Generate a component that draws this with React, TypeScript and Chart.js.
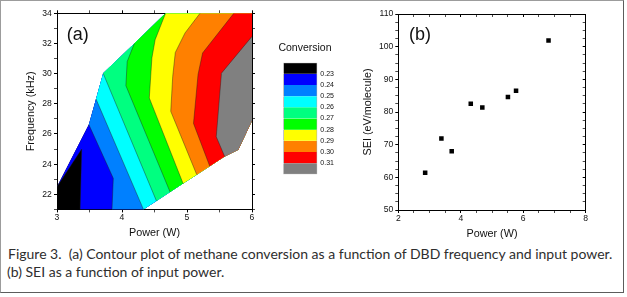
import React, { useEffect, useRef } from 'react';
import { Chart, registerables } from 'chart.js';

Chart.register(...registerables);

const FONT = '"Liberation Sans", Arial, Helvetica, sans-serif';

// ---------------- Panel (a): contour of methane conversion ----------------
const CONVERSION_LEVELS = [0.23, 0.24, 0.25, 0.26, 0.27, 0.28, 0.29, 0.3, 0.31];
const BAND_COLORS = ['#000000', '#0000ff', '#0080ff', '#00ffff', '#00ff80', '#00ff00', '#ffff00', '#ff8000', '#ff0000', '#808080'];
const COLORBAR_RANGE = [0.22, 0.32];

const POWER_RANGE_A = [3, 6];
const FREQ_RANGE_A = [21, 34];

// outline of the measured region [power W, frequency kHz], counter-clockwise from bottom-left
const DOMAIN_OUTLINE: number[][] = [
  [3, 21], [3.355, 21], [3.846, 21], [4.33, 21],
  [4.53, 21.56], [4.74, 22.15], [4.94, 22.71], [5.15, 23.3], [5.35, 23.86], [5.58, 24.5], [5.79, 24.95], [6, 26.87],
  [6, 32.47], [6, 34],
  [5.72, 34], [5.2, 34], [4.67, 34],
  [4.19, 32.0], [3.71, 30.02], [3.6, 28.32], [3.49, 26.62], [3, 22.5],
];

// iso-conversion lines, each from the upper/left edge to the lower/right edge
const CONTOUR_023 = [[3, 22.5], [3.38, 25.0], [3.355, 21]];
const CONTOUR_024 = [[3.49, 26.62], [3.866, 23.06], [3.846, 21]];
const CONTOUR_025 = [[3.6, 28.32], [4.33, 21]];
const CONTOUR_026 = [[3.71, 30.02], [4.53, 21.56]];
const CONTOUR_027 = [[4.19, 32.0], [4.08, 30.8], [4.06, 29.2], [4.74, 22.15]];
const CONTOUR_028 = [[4.67, 34], [4.51, 32.25], [4.46, 31.04], [4.42, 28.39], [4.94, 22.71]];
const CONTOUR_029 = [[5.2, 34], [4.97, 32.7], [4.82, 31.4], [4.78, 29.8], [4.75, 27.5], [5.15, 23.3]];
const CONTOUR_030 = [[5.72, 34], [5.24, 31.37], [5.17, 29.95], [5.1, 26.7], [5.35, 23.86]];
const CONTOUR_031 = [[6, 32.47], [5.53, 30.03], [5.45, 25.82], [5.58, 24.5]];
const CONTOURS = [CONTOUR_023, CONTOUR_024, CONTOUR_025, CONTOUR_026, CONTOUR_027, CONTOUR_028, CONTOUR_029, CONTOUR_030, CONTOUR_031];

// ---------------- Panel (b): SEI vs power ----------------
const SEI_POWER = [2.86, 3.38, 3.71, 4.32, 4.69, 5.51, 5.77, 6.81];
const SEI_VALUE = [61.4, 71.9, 68.0, 82.5, 81.4, 84.6, 86.5, 101.9];
const POWER_RANGE_B = [2, 8];
const SEI_RANGE_B = [50, 110];

const CAPTION_1 = 'Figure 3.  (a) Contour plot of methane conversion as a function of DBD frequency and input power.';
const CAPTION_2 = '(b) SEI as a function of input power.';

// region with conversion above a contour level: contour + outline from its end back round to its start
function regionAbove(contour: number[][]) {
  const same = (p: number[], q: number[]) => p[0] === q[0] && p[1] === q[1];
  const n = DOMAIN_OUTLINE.length;
  const s = DOMAIN_OUTLINE.findIndex((q) => same(q, contour[0]));
  const e = DOMAIN_OUTLINE.findIndex((q) => same(q, contour[contour.length - 1]));
  const pts = contour.slice();
  for (let i = (e + 1) % n; i !== s; i = (i + 1) % n) pts.push(DOMAIN_OUTLINE[i]);
  return pts;
}

const toXY = (pts: number[][]) => pts.map(([x, y]) => ({ x, y }));

function linAxis(o: {
  position: string; min: number; max: number; step: number; major: number;
  tickLen: number; labels: boolean; size: number; title?: string; titlePad?: any; labelPad?: number; z?: number;
}) {
  const isMajor = (v: number) => Math.abs(v / o.major - Math.round(v / o.major)) < 1e-6;
  const horizontal = o.position === 'top' || o.position === 'bottom';
  return {
    type: 'linear',
    position: o.position,
    min: o.min,
    max: o.max,
    z: o.z ?? 0,
    ticks: {
      display: o.labels,
      stepSize: o.step,
      autoSkip: false,
      maxRotation: 0,
      padding: o.labelPad ?? 1,
      color: '#111',
      font: { family: FONT, size: 8.6 },
      callback: (v: number) => (isMajor(v) ? String(Math.round(v)) : ''),
    },
    grid: {
      drawOnChartArea: false,
      drawTicks: true,
      tickLength: o.tickLen,
      tickColor: '#000',
      tickWidth: (c: any) => (c.tick && isMajor(c.tick.value) ? 1 : 0.7),
    },
    border: { display: true, color: '#000', width: 1 },
    title: o.title
      ? { display: true, text: o.title, color: '#111', font: { family: FONT, size: 10.8 }, padding: o.titlePad }
      : { display: false },
    afterFit: (s: any) => {
      if (horizontal) s.height = o.size;
      else s.width = o.size;
    },
  };
}

function makeContour(canvas: HTMLCanvasElement) {
  const regions = [DOMAIN_OUTLINE, ...CONTOURS.map(regionAbove)];
  const datasets: any[] = [
    ...regions.map((poly, i) => ({
      data: toXY(poly),
      fill: 'shape',
      backgroundColor: BAND_COLORS[i],
      borderColor: BAND_COLORS[i],
      borderWidth: 0,
      pointRadius: 0,
      tension: 0,
      order: 100 - i,
    })),
    ...CONTOURS.map((c) => ({
      data: toXY(c),
      fill: false,
      borderColor: 'rgba(30,30,30,0.7)',
      borderWidth: 0.6,
      pointRadius: 0,
      tension: 0,
      order: 0,
    })),
  ];
  return new Chart(canvas, {
    type: 'line',
    data: { datasets },
    options: {
      animation: false,
      responsive: false,
      events: [],
      layout: { padding: { top: 10.3, right: 15, left: 0, bottom: 0 } },
      plugins: { legend: { display: false }, tooltip: { enabled: false } },
      scales: {
        x: linAxis({ position: 'bottom', min: POWER_RANGE_A[0], max: POWER_RANGE_A[1], step: 0.5, major: 1, tickLen: 3, labels: true, size: 35.6, title: 'Power (W)', titlePad: { top: 0, bottom: 5.7 }, labelPad: 0.5, z: 1 }),
        x2: linAxis({ position: 'top', min: POWER_RANGE_A[0], max: POWER_RANGE_A[1], step: 0.5, major: 1, tickLen: 3, labels: false, size: 3, z: 1 }),
        y: linAxis({ position: 'left', min: FREQ_RANGE_A[0], max: FREQ_RANGE_A[1], step: 1, major: 2, tickLen: 3, labels: true, size: 57, title: 'Frequency (kHz)', titlePad: { top: 24.4, bottom: 0 }, labelPad: 2.3, z: 1 }),
        y2: linAxis({ position: 'right', min: FREQ_RANGE_A[0], max: FREQ_RANGE_A[1], step: 1, major: 2, tickLen: 3, labels: false, size: 3, z: 1 }),
      } as any,
    },
  } as any);
}

function makeColorbar(canvas: HTMLCanvasElement) {
  const edges = [COLORBAR_RANGE[0], ...CONVERSION_LEVELS, COLORBAR_RANGE[1]];
  const last = BAND_COLORS.length - 1;
  return new Chart(canvas, {
    type: 'bar',
    data: {
      labels: [''],
      datasets: BAND_COLORS.map((col, i) => ({
        data: [[edges[i], edges[i + 1]]],
        backgroundColor: col,
        borderColor: '#a8a8a8',
        borderWidth: { left: 1, right: 1, top: i === 0 ? 1 : 0, bottom: i === last ? 1 : 0 },
        borderSkipped: false,
        barPercentage: 1,
        categoryPercentage: 1,
      })),
    },
    options: {
      animation: false,
      responsive: false,
      events: [],
      layout: { padding: { left: 13.3, top: 7.7, bottom: 10.7, right: 0 } },
      plugins: { legend: { display: false }, tooltip: { enabled: false } },
      scales: {
        x: { type: 'category', display: false, stacked: true },
        y: {
          type: 'linear',
          position: 'right',
          min: COLORBAR_RANGE[0],
          max: COLORBAR_RANGE[1],
          reverse: true,
          afterBuildTicks: (s: any) => {
            s.ticks = CONVERSION_LEVELS.map((v) => ({ value: v }));
          },
          ticks: {
            autoSkip: false,
            padding: 3,
            color: '#111',
            font: { family: FONT, size: 7 },
            callback: (v: number) => Number(v).toFixed(2),
          },
          grid: { display: false, drawTicks: false },
          border: { display: false },
          afterFit: (s: any) => {
            s.width = 42.7;
          },
        },
      } as any,
    },
  } as any);
}

function makeScatter(canvas: HTMLCanvasElement) {
  return new Chart(canvas, {
    type: 'scatter',
    data: {
      datasets: [
        {
          data: SEI_POWER.map((x, i) => ({ x, y: SEI_VALUE[i] })),
          pointStyle: 'rect',
          pointRadius: 3.2,
          backgroundColor: '#000',
          borderWidth: 0,
        },
      ],
    },
    options: {
      animation: false,
      responsive: false,
      events: [],
      layout: { padding: { top: 14, right: 41.3, left: 0, bottom: 0 } },
      plugins: { legend: { display: false }, tooltip: { enabled: false } },
      scales: {
        x: linAxis({ position: 'bottom', min: POWER_RANGE_B[0], max: POWER_RANGE_B[1], step: 0.5, major: 2, tickLen: 3, labels: true, size: 35, title: 'Power (W)', titlePad: { top: 0, bottom: 4.7 }, labelPad: 0.5 }),
        x2: linAxis({ position: 'top', min: POWER_RANGE_B[0], max: POWER_RANGE_B[1], step: 0.5, major: 2, tickLen: -3, labels: false, size: 0 }),
        y: linAxis({ position: 'left', min: SEI_RANGE_B[0], max: SEI_RANGE_B[1], step: 2.5, major: 10, tickLen: 3, labels: true, size: 58.3, title: 'SEI (eV/molecule)', titlePad: { top: 21.7, bottom: 0 }, labelPad: 2 }),
        y2: linAxis({ position: 'right', min: SEI_RANGE_B[0], max: SEI_RANGE_B[1], step: 2.5, major: 10, tickLen: -3, labels: false, size: 0 }),
      } as any,
    },
  } as any);
}

export default function App() {
  const aRef = useRef<HTMLCanvasElement>(null);
  const cbRef = useRef<HTMLCanvasElement>(null);
  const bRef = useRef<HTMLCanvasElement>(null);

  useEffect(() => {
    const charts = [makeContour(aRef.current!), makeColorbar(cbRef.current!), makeScatter(bRef.current!)];
    return () => charts.forEach((c) => c.destroy());
  }, []);

  const abs = (left: number, top: number, extra: any = {}) => ({ position: 'absolute' as const, left, top, ...extra });

  return (
    <div style={abs(0, 0, { width: 627, height: 297, background: '#fff', overflow: 'hidden', fontFamily: FONT })}>
      <div
        style={abs(0, 0, {
          width: 624,
          height: 293,
          boxSizing: 'border-box',
          borderLeft: '1px solid #9c9c9c',
          borderTop: '1px solid #9c9c9c',
          borderRight: '1px solid #5c5c5c',
          borderBottom: '1px solid #5c5c5c',
        })}
      />
      <canvas ref={aRef} width={270} height={245} style={abs(0, 0, { display: 'block' })} />
      <canvas ref={cbRef} width={90} height={130} style={abs(270, 55, { display: 'block' })} />
      <canvas ref={bRef} width={287} height={245} style={abs(340, 0, { display: 'block' })} />
      <div style={abs(66.8, 24.9, { fontSize: 18, lineHeight: '18px', color: '#111', whiteSpace: 'nowrap' })}>(a)</div>
      <div style={abs(409, 24.9, { fontSize: 18, lineHeight: '18px', color: '#111', whiteSpace: 'nowrap' })}>(b)</div>
      <div style={abs(265, 42.1, { width: 80, textAlign: 'center', fontSize: 10.5, lineHeight: '10.5px', color: '#111', whiteSpace: 'nowrap' })}>
        Conversion
      </div>
      <div style={abs(8, 244.6, { fontFamily: 'Lato, "Open Sans", sans-serif', fontSize: 14, lineHeight: '18px', color: '#2e2e2e', whiteSpace: 'nowrap' })}>
        <div style={{ whiteSpace: 'pre' }}>{CAPTION_1}</div>
        <div style={{ marginLeft: -1 }}>{CAPTION_2}</div>
      </div>
    </div>
  );
}
